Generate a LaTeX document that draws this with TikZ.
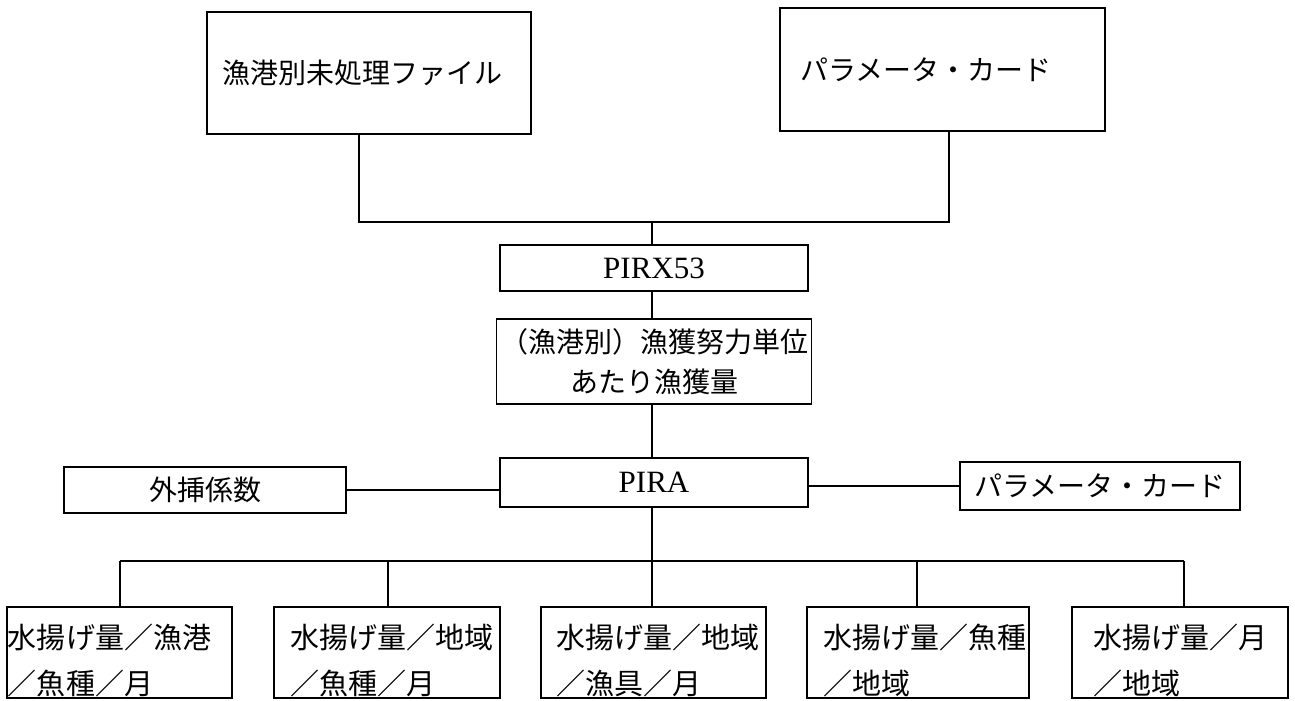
\documentclass[tikz,border=0pt]{standalone}
\usepackage{fontspec}
\newfontfamily\jp{Noto Sans CJK JP}
\newfontfamily\lat{Liberation Serif}
\tikzset{
  box/.style={draw, line width=1.6pt, inner ysep=0pt, font=\jp\fontsize{28}{40}\selectfont},
  latbox/.style={box, font=\lat\fontsize{31}{36}\selectfont},
  wire/.style={line width=1.6pt},
  lowbox/.style={box, minimum height=91pt, align=left, font=\jp\fontsize{29}{46}\selectfont},
}
\newcommand{\lowstrut}{\rule{0pt}{40pt}}
\begin{document}
\begin{tikzpicture}[x=1pt,y=-1pt]
\useasboundingbox (0,0) rectangle (1295,701);
% top boxes
\node[box, minimum height=122pt, text width=294pt, inner xsep=15pt, align=left] (A) at (369,73) {漁港別未処理ファイル};
\node[box, minimum height=123pt, text width=285pt, inner xsep=20pt, align=left] (B) at (942.5,69.5) {パラメータ・カード};
\coordinate (j1) at (359,222);
\coordinate (j0) at (652,222);
\coordinate (j2) at (949,222);
% central column
\node[latbox, minimum width=308pt, minimum height=46pt] (P53) at (654,268) {PIRX53};
\node[box, minimum width=308pt, minimum height=85pt, align=center] (CPUE) at (654,361.5) {（漁港別）漁獲努力単位\\あたり漁獲量};
\node[latbox, minimum width=308pt, minimum height=49pt] (PIRA) at (654,482.5) {PIRA};
\node[box, minimum width=282pt, minimum height=46pt] (EXT) at (205,490) {外挿係数};
\node[box, minimum width=280pt, minimum height=48pt] (PC) at (1100,486) {パラメータ・カード};
% bottom
\coordinate (b1) at (120,561);
\coordinate (b2) at (388,561);
\coordinate (b3) at (652,561);
\coordinate (b4) at (917,561);
\coordinate (b5) at (1184,561);
\node[lowbox, text width=223pt, inner xsep=1pt] (L1) at (119.5,652.5) {\lowstrut 水揚げ量／漁港\\／魚種／月};
\node[lowbox, text width=194pt, inner xsep=16pt] (L2) at (387,652.5) {\lowstrut 水揚げ量／地域\\／魚種／月};
\node[lowbox, text width=195pt, inner xsep=15pt] (L3) at (653.5,652.5) {\lowstrut 水揚げ量／地域\\／漁具／月};
\node[lowbox, text width=190pt, inner xsep=16pt] (L4) at (918,652.5) {\lowstrut 水揚げ量／魚種\\／地域};
\node[lowbox, text width=174pt, inner xsep=21pt] (L5) at (1180,652.5) {\lowstrut 水揚げ量／月\\／地域};
% connectors
\draw[wire] (A.south -| j1) -- (j1) -- (j2) -- (B.south -| j2);
\draw[wire] (j0) -- (P53.north -| j0);
\draw[wire] (P53.south -| j0) -- (CPUE.north -| j0);
\draw[wire] (CPUE.south -| j0) -- (PIRA.north -| j0);
\draw[wire] (EXT.east) -- (EXT.east -| PIRA.west);
\draw[wire] (PC.west) -- (PC.west -| PIRA.east);
\draw[wire] (PIRA.south -| b3) -- (b3);
\draw[wire] (b1) -- (b5);
\draw[wire] (b1) -- (L1.north -| b1);
\draw[wire] (b2) -- (L2.north -| b2);
\draw[wire] (b3) -- (L3.north -| b3);
\draw[wire] (b4) -- (L4.north -| b4);
\draw[wire] (b5) -- (L5.north -| b5);
\end{tikzpicture}
\end{document}
